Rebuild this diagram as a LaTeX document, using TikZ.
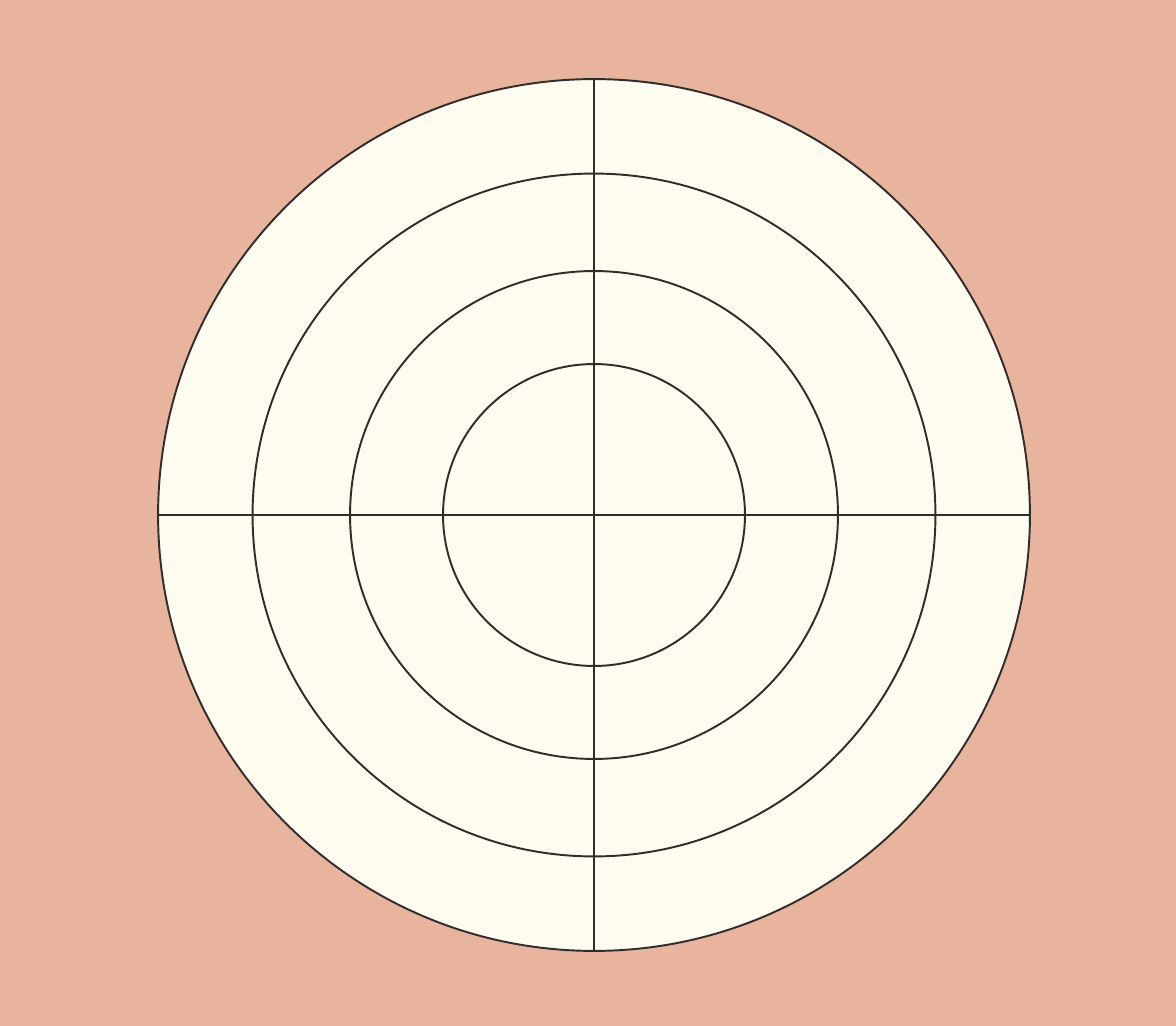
\documentclass[tikz,border=0pt]{standalone}
\begin{document}
\begin{tikzpicture}[x=0.02cm,y=-0.02cm,
  ring/.style={draw=linegray,line width=1.1pt},
  axis/.style={draw=linegray,line width=1.1pt}]
\definecolor{bgpink}{RGB}{233,180,158}
\definecolor{diskfill}{RGB}{254,252,240}
\definecolor{linegray}{RGB}{50,45,45}
\fill[bgpink] (0,0) rectangle (1176,1026);
\useasboundingbox (0,0) rectangle (1176,1026);
\coordinate (c) at (594,515);
\fill[diskfill] (c) circle[radius=8.72cm];
\draw[ring] (c) circle[radius=8.72cm];
\draw[ring] (c) circle[radius=6.83cm];
\draw[ring] (c) circle[radius=4.88cm];
\draw[ring] (c) circle[radius=3.02cm];
\coordinate (top) at (594,79);
\coordinate (bot) at (594,951);
\coordinate (lft) at (158,515);
\coordinate (rgt) at (1030,515);
\draw[axis] (top) -- (bot);
\draw[axis] (lft) -- (rgt);
\end{tikzpicture}
\end{document}
